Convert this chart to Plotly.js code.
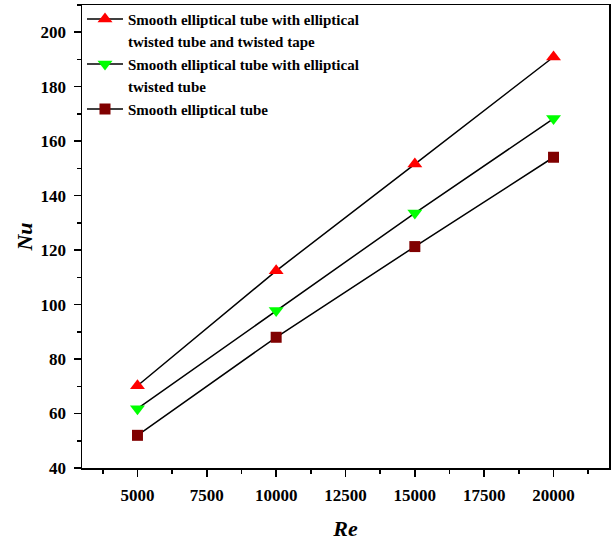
<!DOCTYPE html>
<html>
<head>
<meta charset="utf-8">
<script src="https://cdn.plot.ly/plotly-3.0.1.min.js"></script>
<style>html,body{margin:0;padding:0;background:#fff;}#chart{width:612px;height:541px;}</style>
</head>
<body>
<div id="chart"></div>
<script>
const re = [5000, 10000, 15000, 20000];
const nuTwistedTubeTape = [70.2, 112.4, 151.6, 190.9];
const nuTwistedTube = [61.8, 97.8, 133.6, 168.3];
const nuSmooth = [52.0, 88.0, 121.3, 154.1];
const seriesNames = [
  "Smooth elliptical tube with elliptical",
  "twisted tube and twisted tape",
  "Smooth elliptical tube with elliptical",
  "twisted tube",
  "Smooth elliptical tube"
];
const xTicks = [5000, 7500, 10000, 12500, 15000, 17500, 20000];
const yTicks = [40, 60, 80, 100, 120, 140, 160, 180, 200];

const font = "'Liberation Serif', 'Times New Roman', serif";

const traces = [
  {x: re, y: nuTwistedTubeTape, name: seriesNames[0], mode: 'lines+markers',
   line: {color: '#000', width: 1.5},
   marker: {symbol: 'triangle-up', size: 13, color: '#ff0000'}},
  {x: [null], y: [null], name: seriesNames[1], mode: 'none'},
  {x: re, y: nuTwistedTube, name: seriesNames[2], mode: 'lines+markers',
   line: {color: '#000', width: 1.5},
   marker: {symbol: 'triangle-down', size: 13, color: '#00ff00'}},
  {x: [null], y: [null], name: seriesNames[3], mode: 'none'},
  {x: re, y: nuSmooth, name: seriesNames[4], mode: 'lines+markers',
   line: {color: '#000', width: 1.5},
   marker: {symbol: 'square', size: 11, color: '#800000'}}
];

const layout = {
  width: 612, height: 541,
  margin: {l: 82, r: 3, t: 5, b: 73},
  paper_bgcolor: '#fff', plot_bgcolor: '#fff',
  font: {family: font, color: '#000'},
  showlegend: true,
  legend: {x: 0, y: 1.005, xanchor: 'left', yanchor: 'top', bgcolor: 'rgba(0,0,0,0)',
    itemwidth: 36,
    font: {family: font, size: 15, color: '#000', weight: 'bold'}, tracegroupgap: 0},
  xaxis: {
    range: [3000, 22000], tickvals: xTicks, ticktext: xTicks.map(String),
    ticks: 'outside', ticklen: 7, tickwidth: 1.5, tickcolor: '#000',
    minor: {dtick: 1250, tick0: 0, ticks: 'outside', ticklen: 4, tickwidth: 1.5, tickcolor: '#000', showgrid: false},
    showline: true, linewidth: 1.5, linecolor: '#000', mirror: true,
    showgrid: false, zeroline: false,
    tickfont: {family: font, size: 17, weight: 'bold'},
    ticklabelstandoff: 4,
    title: {text: '<b><i>Re</i></b>', font: {family: font, size: 22}, standoff: 20}
  },
  yaxis: {
    range: [40, 210], tickvals: yTicks, ticktext: yTicks.map(String),
    ticks: 'outside', ticklen: 7, tickwidth: 1.5, tickcolor: '#000',
    minor: {dtick: 10, tick0: 0, ticks: 'outside', ticklen: 4, tickwidth: 1.5, tickcolor: '#000', showgrid: false},
    showline: true, linewidth: 1.5, linecolor: '#000', mirror: true,
    showgrid: false, zeroline: false,
    tickfont: {family: font, size: 17, weight: 'bold'},
    ticklabelstandoff: 4,
    title: {text: '<b><i>Nu</i></b>', font: {family: font, size: 22}, standoff: 2}
  }
};

Plotly.newPlot('chart', traces, layout, {displayModeBar: false, staticPlot: true});
</script>
</body>
</html>
